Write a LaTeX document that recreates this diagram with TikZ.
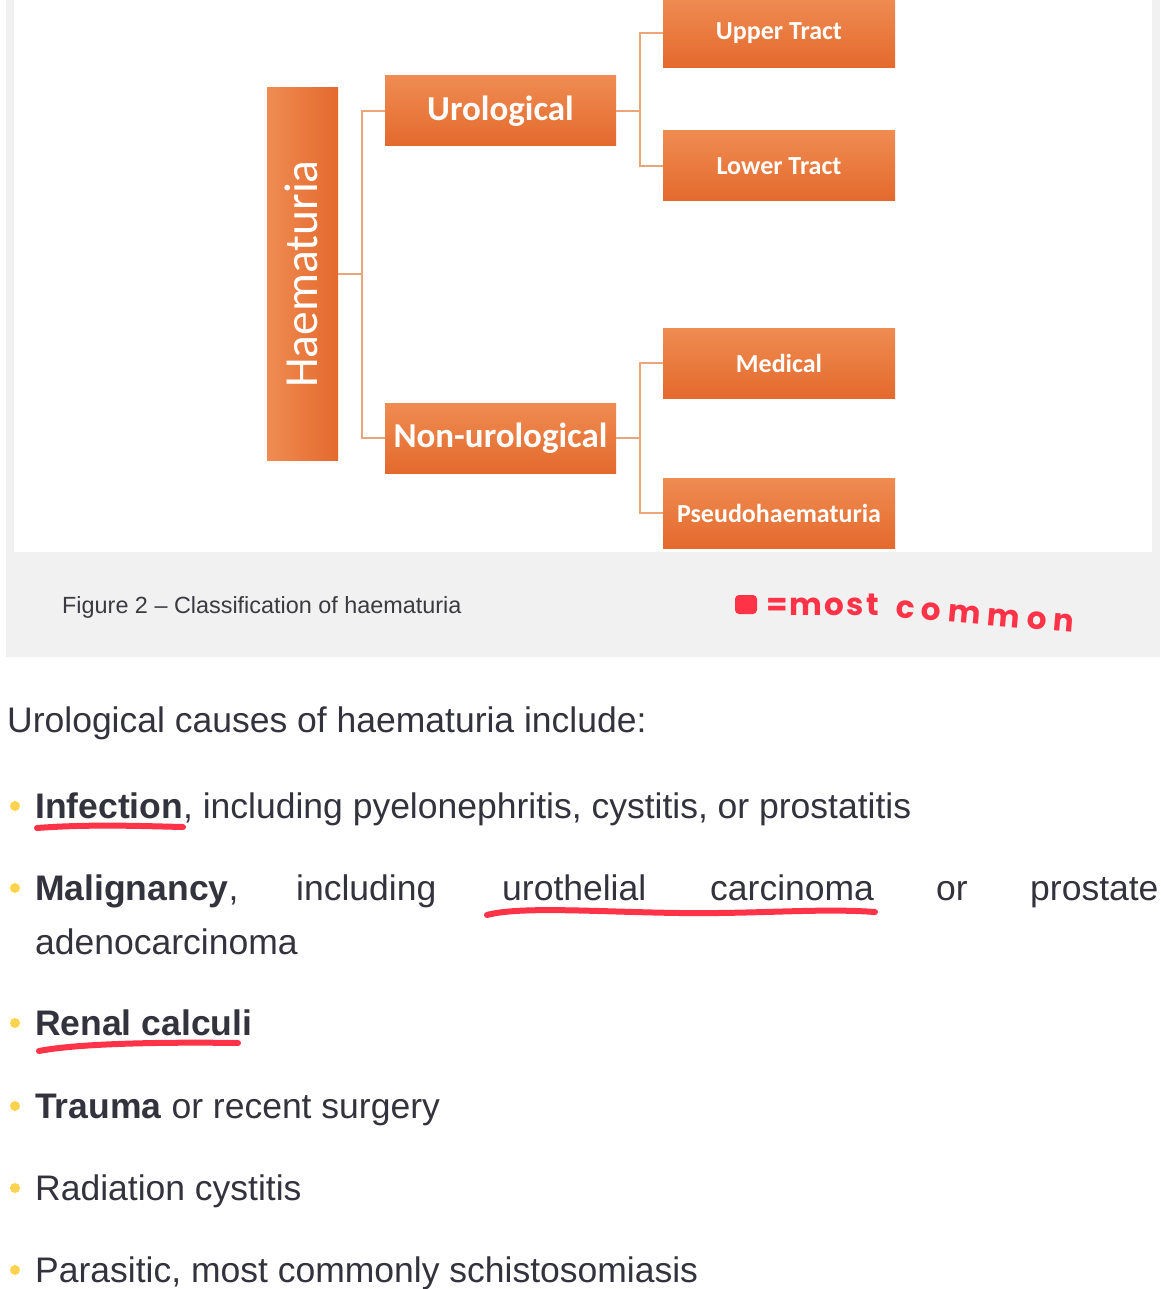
\documentclass[tikz,border=0pt]{standalone}
\usepackage{fontspec}
\setmainfont{Liberation Sans}
\newfontfamily\carl{Carlito}
\newfontfamily\handfont[LetterSpace=7]{Poppins}
\definecolor{txt}{HTML}{33333D}
\definecolor{captxt}{HTML}{3A3A40}
\definecolor{olight}{HTML}{EF8C52}
\definecolor{odark}{HTML}{E4692D}
\definecolor{lineor}{HTML}{EBA57A}
\definecolor{bullet}{HTML}{FFD34E}
\definecolor{hred}{HTML}{FF3347}
\definecolor{panel}{HTML}{F1F1F1}
\begin{document}
\begin{tikzpicture}[x=1pt,y=-1pt,
  obox/.style={draw=none, top color=olight, bottom color=odark, minimum width=231pt, minimum height=70pt, inner sep=0pt, text=white, font=\carl\bfseries\fontsize{35}{40}\selectfont},
  sbox/.style={obox, minimum width=232pt, font=\carl\bfseries\fontsize{26}{30}\selectfont},
  haembox/.style={draw=none, left color=olight, right color=odark, minimum width=71pt, minimum height=372pt, inner sep=0pt},
  conn/.style={draw=lineor, line width=1.6pt},
  body/.style={anchor=base west, inner sep=0pt, text=txt, font=\fontsize{35.5}{40}\selectfont},
  bul/.style={circle, fill=bullet, minimum size=10pt, inner sep=0pt},
  redline/.style={draw=hred, line width=6pt, line cap=round, line join=round},
  hand/.style={anchor=base west, inner sep=0pt, text=hred, font=\handfont\bfseries\fontsize{31}{33}\selectfont}
]
\useasboundingbox (0,0) rectangle (1160,1289);
\fill[white] (0,0) rectangle (1160,1289);
% panel
\fill[panel] (6,0) rectangle (1160,657);
\fill[white] (14,0) rectangle (1152,552);

% diagram boxes
\node[haembox] (haem) at (302.5,274) {};
\node[rotate=90, text=white, inner sep=0pt, font=\carl\fontsize{47.5}{50}\selectfont] (haemtext) at (301,274) {Haematuria};
\node[obox] (uro) at (500.5,111) {Urological};
\node[obox] (nonuro) at (500.5,438) {Non-urological};
\node[sbox] (upper) at (779,33) {Upper Tract};
\node[sbox] (lower) at (779,166) {Lower Tract};
\node[sbox] (medical) at (779,363) {Medical};
\node[sbox] (pseudo) at (779,513) {Pseudohaematuria};

% connectors
\coordinate (j1) at (362,274);
\coordinate (j2) at (640,111);
\coordinate (j3) at (640,438);
\draw[conn] (haem.east) -- (j1);
\draw[conn] (uro.west) -| (j1) |- (nonuro.west);
\draw[conn] (uro.east) -- (j2);
\draw[conn] (upper.west) -| (j2) |- (lower.west);
\draw[conn] (nonuro.east) -- (j3);
\draw[conn] (medical.west) -| (j3) |- (pseudo.west);

% caption
\node[anchor=base west, inner sep=0pt, text=captxt, font=\fontsize{23.4}{26}\selectfont] (cap) at (62,613) {Figure 2 -- Classification of haematuria};

% handwritten note
\fill[hred, rounded corners=4pt] (735,595) rectangle (757,614);
\node[hand] (note1) at (766,615) {=most};
\node[hand, rotate=-5, font=\handfont\bfseries\fontsize{31}{33}\selectfont\addfontfeature{LetterSpace=22}] (note2) at (895,617) {common};

% body text
\node[body] (head) at (7,732) {Urological causes of haematuria include:};

\node[bul] (b1) at (15,806) {};
\node[body] (l1) at (35,818) {\textbf{Infection}, including pyelonephritis, cystitis, or prostatitis};

\node[bul] (b2) at (15,888) {};
\node[body] (w1) at (35,900) {\textbf{Malignancy},};
\node[body] (w2) at (296,900) {including};
\node[body] (w3) at (502,900) {urothelial};
\node[body] (w4) at (710,900) {carcinoma};
\node[body] (w5) at (936,900) {or};
\node[body] (w6) at (1030,900) {prostate};
\node[body] (l2b) at (35,954) {adenocarcinoma};

\node[bul] (b3) at (15,1023) {};
\node[body] (l3) at (35,1035) {\textbf{Renal calculi}};

\node[bul] (b4) at (15,1106) {};
\node[body] (l4) at (35,1118) {\textbf{Trauma} or recent surgery};

\node[bul] (b5) at (15,1188) {};
\node[body] (l5) at (35,1200) {Radiation cystitis};

\node[bul] (b6) at (15,1270) {};
\node[body] (l6) at (35,1282) {Parasitic, most commonly schistosomiasis};

% red underlines
\draw[redline] (37,828) .. controls (90,824) and (140,826) .. (183,827);
\draw[redline] (487,915) .. controls (520,906) and (600,912) .. (680,913) .. controls (760,914) and (820,908) .. (875,912);
\draw[redline] (39,1051) .. controls (80,1043) and (170,1042) .. (238,1043);
\end{tikzpicture}
\end{document}
